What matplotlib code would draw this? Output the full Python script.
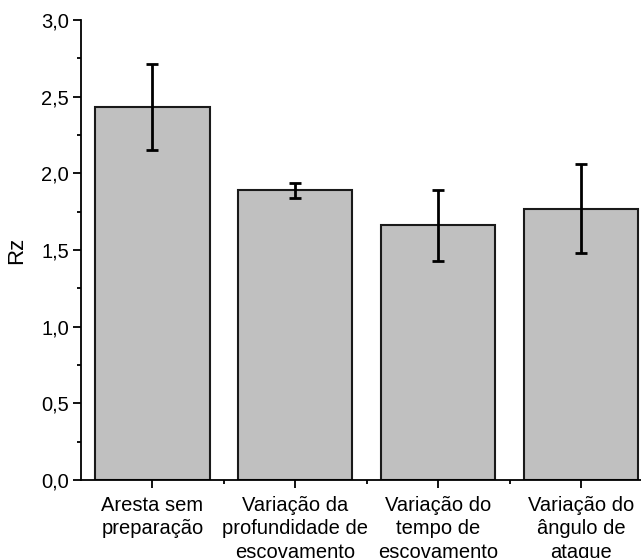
import matplotlib
matplotlib.use("Agg")
import matplotlib.pyplot as plt
from matplotlib.ticker import MultipleLocator, FixedLocator, FuncFormatter

categories = ["Aresta sem\npreparação", "Variação da\nprofundidade de\nescovamento",
              "Variação do\ntempo de\nescovamento", "Variação do\nângulo de\nataque"]
values = [2.43, 1.89, 1.66, 1.77]
errors = [0.28, 0.05, 0.23, 0.29]

plt.rcParams['font.family'] = ['Liberation Sans', 'DejaVu Sans']

fig = plt.figure(figsize=(6.41, 5.58), dpi=100)
ax = fig.add_axes([81/641, 1 - 480/558, 1 - 81/641, (480 - 20)/558])

x = list(range(len(categories)))
ax.bar(x, values, width=0.8, color="#c0c0c0", edgecolor="#1a1a1a", linewidth=1.5, zorder=2)
ax.errorbar(x, values, yerr=errors, fmt="none", ecolor="black", elinewidth=2.0,
            capsize=4, capthick=2.0, zorder=3)

ax.set_xlim(-0.5, 3.42)
ax.set_ylim(0, 3.0)
ax.set_xticks(x)
ax.set_xticklabels(categories, fontsize=14.5, linespacing=1.3, va="top")
ax.xaxis.set_minor_locator(FixedLocator([0.5, 1.5, 2.5]))
ax.yaxis.set_major_locator(MultipleLocator(0.5))
ax.yaxis.set_minor_locator(MultipleLocator(0.25))
ax.yaxis.set_major_formatter(FuncFormatter(lambda v, p: f"{v:.1f}".replace(".", ",")))
ax.tick_params(axis="y", labelsize=14.5, pad=3)
ax.tick_params(axis="x", pad=6)
ax.tick_params(which="major", direction="out", length=5.5, width=1.3)
ax.tick_params(which="minor", direction="out", length=3, width=1.3)
ax.set_ylabel("Rz", fontsize=16, labelpad=10)

for s in ["top", "right"]:
    ax.spines[s].set_visible(False)
for s in ["left", "bottom"]:
    ax.spines[s].set_linewidth(1.3)

fig.savefig("out.png", dpi=100)
